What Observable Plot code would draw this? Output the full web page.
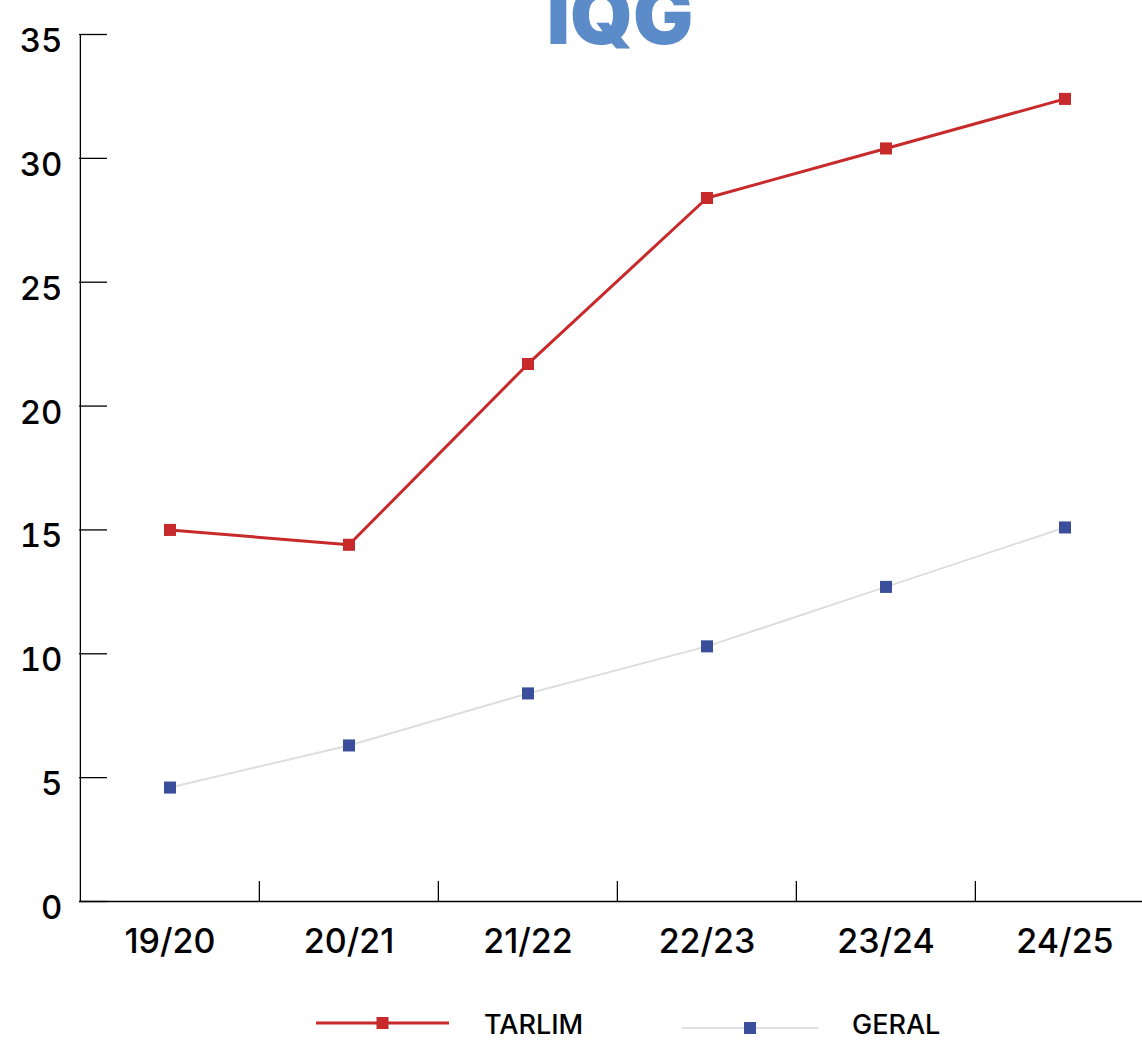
<!DOCTYPE html>
<html>
<head>
<meta charset="utf-8">
<script src="https://cdn.jsdelivr.net/npm/d3@7"></script>
<script src="https://cdn.jsdelivr.net/npm/@observablehq/plot@0.6"></script>
<style>
  body { margin: 0; background: #fff; }
  #wrap { position: relative; width: 1142px; height: 1041px; overflow: hidden; font-family: Inter, "Noto Sans", sans-serif; }
  #chart { position: absolute; left: 0; top: 0; }
  #title { position: absolute; left: 0; top: 0; }
  #legend { position: absolute; left: 0; top: 990px; }
</style>
</head>
<body>
<div id="wrap">
  <div id="chart"></div>
  <svg id="title" width="1142" height="70"></svg>
  <svg id="legend" width="1142" height="51"></svg>
</div>
<script>
// ---- data ----
const categories = ["19/20", "20/21", "21/22", "22/23", "23/24", "24/25"];
const tarlim = [15.0, 14.4, 21.7, 28.4, 30.4, 32.4];
const geral = [4.6, 6.3, 8.4, 10.3, 12.7, 15.1];
const yTicks = [0, 5, 10, 15, 20, 25, 30, 35];
const seriesNames = ["TARLIM", "GERAL"];
const titleText = "IQG";

// ---- styles ----
const RED = "#c8292b";
const BLUE = "#3a4e9b";
const GREY = "#dedede";

const W = 1142, H = 960;
const mL = 79, mT = 34, mB = 59;
const xRange = [79.5, 1155];
const step = (xRange[1] - xRange[0]) / categories.length;
const frameH = H - mT - mB;

const rows = (vals, name) => categories.map((c, i) => ({period: c, value: vals[i], series: name}));
const tRows = rows(tarlim, seriesNames[0]);
const gRows = rows(geral, seriesNames[1]);

const plot = Plot.plot({
  width: W,
  height: H,
  marginLeft: mL,
  marginRight: 0,
  marginTop: mT,
  marginBottom: mB,
  style: {fontFamily: "Inter, 'Noto Sans', sans-serif", color: "#000", background: "#fff", overflow: "visible"},
  x: {type: "band", domain: categories, range: xRange, padding: 0, label: null},
  y: {domain: [0, 35], label: null},
  marks: [
    Plot.axisY({ticks: yTicks, tickSize: 0, tickPadding: 17, fontSize: 33, fontWeight: 500, dy: 7, label: null}),
    Plot.axisX({tickSize: 0, tickPadding: 27, fontSize: 34, fontWeight: 500, label: null}),
    // inward y ticks
    Plot.tickY(yTicks, {y: d => d, stroke: "#000", strokeWidth: 1.3, insetRight: W - mL - 28}),
    // x boundary ticks
    Plot.tickX(categories.slice(1), {x: d => d, dx: -step / 2, stroke: "#000", strokeWidth: 1.3, insetTop: frameH - 20}),
    // axis lines
    Plot.ruleY([0], {stroke: "#000", strokeWidth: 1.3}),
    Plot.ruleX([categories[0]], {dx: -step / 2, y1: 0, y2: 35, stroke: "#000", strokeWidth: 1.3}),
    // series
    Plot.line(gRows, {x: "period", y: "value", stroke: GREY, strokeWidth: 2}),
    Plot.dot(gRows, {x: "period", y: "value", symbol: "square", r: 6.8, fill: BLUE, stroke: null}),
    Plot.line(tRows, {x: "period", y: "value", stroke: RED, strokeWidth: 3}),
    Plot.dot(tRows, {x: "period", y: "value", symbol: "square", r: 6.8, fill: RED, stroke: null})
  ]
});
document.getElementById("chart").appendChild(plot);

// ---- title ----
const title = d3.select("#title");
title.append("text")
  .attr("x", 620).attr("y", 44)
  .attr("text-anchor", "middle")
  .attr("font-family", "Inter, 'Noto Sans', sans-serif")
  .attr("font-weight", 900)
  .attr("font-size", 80)
  .attr("fill", "#5b8bc8")
  .text(titleText);

// ---- legend ----
const lg = d3.select("#legend");
const items = [
  {name: seriesNames[0], color: RED, line: RED, lw: 3, x0: 316, x1: 449, y: 33, tx: 484},
  {name: seriesNames[1], color: BLUE, line: GREY, lw: 2, x0: 682, x1: 818, y: 38, tx: 852}
];
for (const it of items) {
  lg.append("line").attr("x1", it.x0).attr("x2", it.x1).attr("y1", it.y).attr("y2", it.y)
    .attr("stroke", it.line).attr("stroke-width", it.lw);
  const cx = (it.x0 + it.x1) / 2;
  lg.append("rect").attr("x", cx - 6).attr("y", it.y - 6).attr("width", 12).attr("height", 12).attr("fill", it.color);
  lg.append("text").attr("x", it.tx).attr("y", 44)
    .attr("font-family", "Inter, 'Noto Sans', sans-serif")
    .attr("font-weight", 500)
    .attr("font-size", 27)
    .attr("fill", "#000")
    .text(it.name);
}
</script>
</body>
</html>
